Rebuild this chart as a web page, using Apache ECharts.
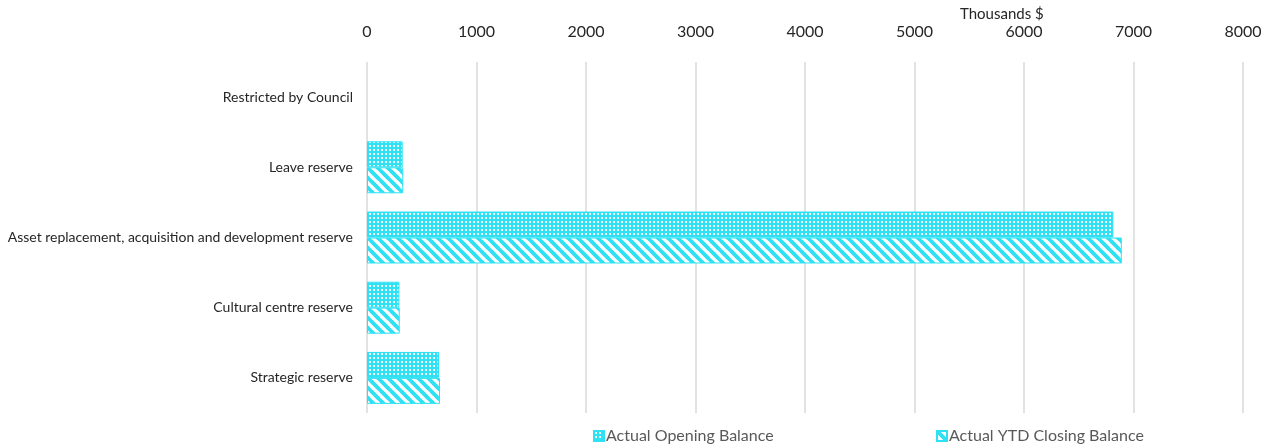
<!DOCTYPE html>
<html><head><meta charset="utf-8">
<script src="https://cdn.jsdelivr.net/npm/echarts@6/dist/echarts.min.js"></script>
<style>html,body{margin:0;padding:0;background:#fff}#c{width:1272px;height:445px}</style>
</head><body><div id="c"></div>
<script>
const categories = ["Restricted by Council","Leave reserve","Asset replacement, acquisition and development reserve","Cultural centre reserve","Strategic reserve"];
const openingBalance = [0, 326, 6816, 296, 658];
const closingBalance = [0, 331, 6893, 299, 667];
const seriesNames = ["Actual Opening Balance","Actual YTD Closing Balance"];
const axisTitle = "Thousands $";

const CYAN = '#2ee1f3';
function dotPattern(){
  const c=document.createElement('canvas'); c.width=4; c.height=4;
  const g=c.getContext('2d'); g.fillStyle=CYAN; g.fillRect(0,0,4,4);
  g.fillStyle='#f0fdfe'; g.fillRect(1,1,2,2);
  return c;
}
function stripePattern(){
  const s=10;
  const c=document.createElement('canvas'); c.width=s; c.height=s;
  const g=c.getContext('2d'); g.fillStyle='#fff'; g.fillRect(0,0,s,s);
  g.strokeStyle=CYAN; g.lineWidth=3.6;
  [[-s,-s,s,s],[0,0,2*s,2*s],[-2*s,-2*s,0,0],[0,-s,2*s,s],[-s,0,s,2*s]].forEach(l=>{
    g.beginPath(); g.moveTo(l[0],l[1]); g.lineTo(l[2],l[3]); g.stroke();
  });
  return c;
}
function toData(arr){ return arr.map(v => v === 0 ? {value:v, itemStyle:{borderWidth:0}} : v); }
const chart = echarts.init(document.getElementById('c'), null, {renderer:'canvas'});
const font = 'Lato, "Open Sans", sans-serif';
chart.setOption({
  animation:false,
  textStyle:{fontFamily:font},
  title:{text:axisTitle, left:955, top:2, textStyle:{fontSize:15, fontWeight:'normal', color:'#262626', fontFamily:font}},
  grid:{left:367, right:29, top:62, bottom:32},
  legend:[
    {data:[seriesNames[0]], left:588, top:423, itemWidth:10, itemHeight:10, itemGap:4, textStyle:{fontSize:16,color:'#595959',padding:[0,0,0,-3]}, icon:'rect'},
    {data:[seriesNames[1]], left:931, top:423, itemWidth:10, itemHeight:10, itemGap:4, textStyle:{fontSize:16,color:'#595959',padding:[0,0,0,-3]}, icon:'rect'}
  ],
  xAxis:{type:'value', position:'top', min:0, max:8000, interval:1000,
    axisLine:{show:false}, axisTick:{show:false},
    axisLabel:{fontSize:16, color:'#262626', margin:22, fontFamily:font, formatter:v=>String(v)},
    splitLine:{lineStyle:{color:'#d9d9d9', width:1.5}}},
  yAxis:{type:'category', data:categories, inverse:true,
    axisLine:{show:false}, axisTick:{show:false},
    axisLabel:{fontSize:14, color:'#262626', margin:14, fontFamily:font}},
  series:[
    {name:seriesNames[0], type:'bar', data:toData(openingBalance), barGap:'0%', barCategoryGap:'26%',
     itemStyle:{color:{image:dotPattern(), repeat:'repeat'}, borderColor:CYAN, borderWidth:1}},
    {name:seriesNames[1], type:'bar', data:toData(closingBalance),
     itemStyle:{color:{image:stripePattern(), repeat:'repeat'}, borderColor:CYAN, borderWidth:1}}
  ]
});
</script></body></html>
